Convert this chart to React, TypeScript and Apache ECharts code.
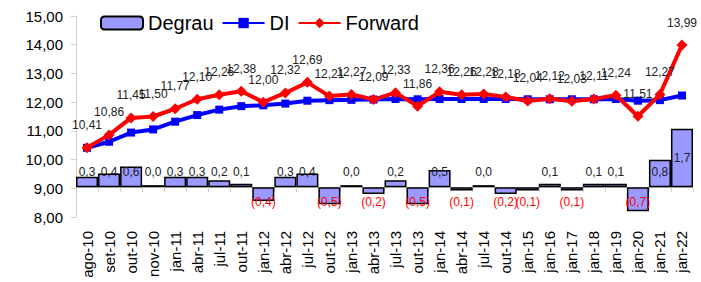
import React, { useEffect, useRef } from "react";
import * as echarts from "echarts";

const categories = [
  "ago-10", "set-10", "out-10", "nov-10", "jan-11", "abr-11", "jul-11", "out-11",
  "jan-12", "abr-12", "jul-12", "out-12", "jan-13", "abr-13", "jul-13", "out-13",
  "jan-14", "abr-14", "jul-14", "out-14", "jan-15", "jan-16", "jan-17", "jan-18",
  "jan-19", "jan-20", "jan-21", "jan-22",
];

const degrau = [
  0.3, 0.4, 0.6, 0.0, 0.3, 0.3, 0.2, 0.1, -0.4, 0.3, 0.4, -0.5, 0.0, -0.2,
  0.2, -0.5, 0.5, -0.1, 0.0, -0.2, -0.1, 0.1, -0.1, 0.1, 0.1, -0.7, 0.8, 1.7,
];

const di = [
  10.41, 10.62, 10.94, 11.05, 11.32, 11.55, 11.74, 11.86, 11.89, 11.95, 12.05,
  12.07, 12.08, 12.09, 12.11, 12.1, 12.11, 12.11, 12.11, 12.11, 12.1, 12.1,
  12.1, 12.1, 12.11, 12.05, 12.07, 12.23,
];

const forward = [
  10.41, 10.86, 11.45, 11.5, 11.77, 12.1, 12.26, 12.38, 12.0, 12.32, 12.69,
  12.21, 12.27, 12.09, 12.33, 11.86, 12.36, 12.26, 12.28, 12.18, 12.04, 12.12,
  12.03, 12.11, 12.24, 11.51, 12.27, 13.99,
];

const yTicks = { min: 8, max: 15, interval: 1 };

const FONT = "'Liberation Sans', Arial, sans-serif";
const fmt = (v: number, d: number) => v.toFixed(d).replace(".", ",");

export default function App() {
  const ref = useRef<HTMLDivElement>(null);
  useEffect(() => {
    if (!ref.current) return;
    const chart = echarts.init(ref.current, undefined, { renderer: "svg" });
    const barData = degrau.map((v) => ({
      value: v,
      label: {
        position: v > 1 ? "inside" : v >= 0 ? "insideBottom" : "insideTop",
        distance: v > 1 ? 0 : v >= 0 ? 9.5 : 8.5,
        color: v < 0 ? "#ff0000" : "#222",
      },
    }));
    chart.setOption({
      animation: false,
      textStyle: { fontFamily: FONT },
      grid: { left: 76, right: 8, top: 16, bottom: 65 },
      legend: {
        left: 100,
        top: 13,
        padding: 0,
        itemWidth: 42,
        itemHeight: 13,
        itemGap: 8,
        textStyle: { fontSize: 20, color: "#000", fontFamily: FONT },
        data: ["Degrau", "DI", "Forward"],
      },
      xAxis: {
        type: "category",
        data: categories,
        boundaryGap: true,
        axisLine: { lineStyle: { color: "#d0d0d0", width: 1 } },
        axisTick: { show: true, inside: false, length: 5, lineStyle: { color: "#d0d0d0" } },
        axisLabel: {
          rotate: 90,
          interval: 0,
          fontSize: 15,
          color: "#000",
          margin: 14,
          fontFamily: FONT,
        },
      },
      yAxis: [
        {
          type: "value",
          min: yTicks.min,
          max: yTicks.max,
          interval: yTicks.interval,
          splitLine: { show: false },
          axisLine: { show: true, lineStyle: { color: "#d0d0d0" } },
          axisTick: { show: true, length: 5, lineStyle: { color: "#d0d0d0" } },
          axisLabel: {
            fontSize: 15,
            color: "#000",
            margin: 13,
            fontFamily: FONT,
            formatter: (v: number) => fmt(v, 2),
          },
        },
        {
          type: "value",
          min: -0.87,
          max: 4.99,
          show: false,
          splitLine: { show: false },
        },
      ],
      series: [
        {
          name: "Degrau",
          type: "bar",
          yAxisIndex: 1,
          data: barData,
          barCategoryGap: "0%",
          barMinHeight: 2,
          itemStyle: { color: "#9999ff", borderColor: "#000", borderWidth: 1.5 },
          label: {
            show: true,
            fontSize: 12,
            fontFamily: FONT,
            formatter: (p: any) =>
              p.value < 0 ? "(" + fmt(-p.value, 1) + ")" : fmt(p.value, 1),
          },
          z: 1,
        },
        {
          name: "DI",
          type: "line",
          data: di,
          symbol: "rect",
          symbolSize: 8,
          lineStyle: { color: "#0000ff", width: 4 },
          itemStyle: { color: "#0000ff" },
          z: 3,
        },
        {
          name: "Forward",
          type: "line",
          data: forward,
          symbol: "diamond",
          symbolSize: 11,
          lineStyle: { color: "#ff0000", width: 4 },
          itemStyle: { color: "#ff0000" },
          label: {
            show: true,
            position: "top",
            distance: 11,
            fontSize: 12,
            color: "#222",
            fontFamily: FONT,
            formatter: (p: any) => fmt(p.value, 2),
          },
          z: 4,
        },
      ],
    });
    return () => chart.dispose();
  }, []);
  return (
    <div
      ref={ref}
      style={{ position: "fixed", left: 0, top: 0, width: 701, height: 282, background: "#fff" }}
    />
  );
}
